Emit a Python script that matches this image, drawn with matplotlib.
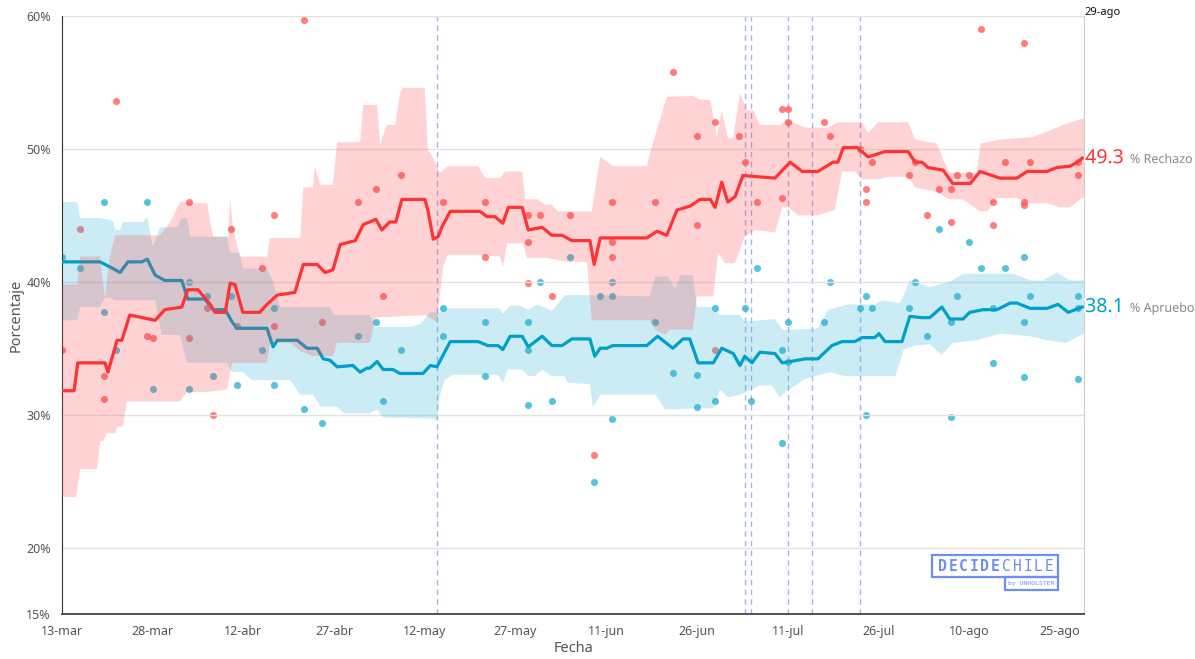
import numpy as np
import matplotlib
matplotlib.use("Agg")
import matplotlib.pyplot as plt
import matplotlib.patheffects as pe
from matplotlib.patches import Rectangle

plt.rcParams['font.family'] = ['Noto Sans', 'DejaVu Sans']

# days since 13-mar
tick_days = [0, 15, 30, 45, 60, 75, 90, 105, 120, 135, 150, 165]
tick_labels = ["13-mar", "28-mar", "12-abr", "27-abr", "12-may", "27-may",
               "11-jun", "26-jun", "11-jul", "26-jul", "10-ago", "25-ago"]
y_ticks = [15, 20, 30, 40, 50, 60]
event_days = [62, 113, 114, 120, 124, 132]

# Rechazo: trend line
rech_d = [0, 2.0, 2.6, 7.1, 7.6, 9.1, 9.9, 11.2, 15.4, 17.0, 19.8, 20.8, 22.5, 24.5, 25.3, 27.0,
          27.8, 28.6, 29.9, 32.7, 33.9, 35.6, 38.5, 39.9, 42.2, 43.5, 44.8, 46.0, 48.5, 49.8,
          51.9, 52.9, 54.2, 55.2, 56.2, 60.0, 60.5, 61.4, 62.2, 62.8, 64.2, 69.1, 70.3, 71.6,
          72.9, 73.8, 76.1, 77.1, 79.4, 81.0, 82.7, 84.3, 87.3, 88.0, 89.0, 96.7, 98.4, 100.0,
          101.7, 103.9, 105.5, 107.2, 108.0, 109.1, 110.1, 111.3, 112.6, 117.9, 120.4, 122.4,
          125.0, 127.5, 128.3, 129.2, 131.5, 133.3, 136.1, 139.9, 141.1, 142.2, 143.2, 145.7,
          147.3, 150.2, 151.8, 155.1, 157.9, 159.6, 162.9, 164.5, 166.7, 167.9, 168.7]
rech_v = [31.8, 31.8, 33.9, 33.9, 33.2, 35.6, 35.6, 37.5, 37.1, 37.9, 38.1, 39.4, 39.4, 38.3, 37.7, 37.7,
          39.9, 39.8, 37.7, 37.7, 38.3, 39.0, 39.2, 41.3, 41.3, 40.7, 40.9, 42.8, 43.1, 44.3,
          44.7, 43.9, 44.5, 44.5, 46.2, 46.2, 45.4, 43.2, 43.4, 44.1, 45.3, 45.3, 44.9, 44.9,
          44.4, 45.6, 45.6, 43.9, 44.1, 43.5, 43.5, 43.1, 43.1, 41.3, 43.3, 43.3, 43.8, 43.5,
          45.4, 45.7, 46.2, 46.2, 45.6, 47.5, 46.0, 46.4, 48.0, 47.8, 49.0, 48.3,
          48.3, 49.0, 49.0, 50.1, 50.1, 49.4, 49.8, 49.8, 49.0, 49.0, 48.6, 48.4,
          47.4, 47.4, 48.3, 47.8, 47.8, 48.3, 48.3, 48.6, 48.7, 49.0, 49.3]

# Rechazo: upper band
rech_hi_d = [0, 2.5, 3.0, 6.3, 7.1, 7.9, 8.8, 16.2, 17.9, 19.5, 24.0, 24.5, 25.0, 27.5, 27.8, 28.3,
             29.4, 33.9, 34.4, 39.4, 39.9, 41.5, 41.8, 42.7, 44.8, 45.5, 49.3, 49.8, 52.1, 52.6,
             53.7, 55.1, 55.9, 56.4, 60.0, 60.5, 61.2, 62.5, 63.8, 68.8, 70.0, 72.4, 73.3, 76.1,
             76.6, 78.7, 79.9, 81.0, 82.0, 87.6, 89.0, 91.1, 96.7, 97.7, 100.0, 104.3, 105.5,
             107.2, 108.3, 109.1, 110.1, 111.0, 112.1, 113.3, 114.3, 115.4, 118.7, 119.9, 122.9,
             126.7, 128.3, 132.3, 133.3, 134.9, 139.9, 141.1, 144.7, 145.7, 146.8, 151.3, 151.9,
             155.1, 160.6, 163.4, 166.7, 169.0]
rech_hi_v = [39.8, 39.8, 41.9, 41.9, 38.8, 41.9, 43.5, 43.5, 44.5, 46.0, 45.9, 44.5, 43.4, 43.4, 46.2, 44.0,
             41.9, 41.9, 43.3, 43.3, 47.1, 47.1, 48.7, 47.3, 47.3, 50.5, 50.5, 53.3, 53.3, 50.3,
             51.8, 51.8, 54.2, 54.6, 54.6, 49.9, 49.5, 48.2, 48.7, 48.7, 47.8, 47.8, 48.3, 48.3,
             46.2, 46.2, 45.8, 45.8, 45.3, 45.3, 49.4, 48.7, 48.7, 50.4, 53.9, 54.0, 53.7,
             53.7, 50.9, 52.9, 50.8, 50.8, 54.2, 52.9, 52.9, 51.8, 51.8, 52.2, 51.6,
             51.6, 52.0, 52.0, 51.2, 52.0, 52.0, 50.7, 50.4, 49.2, 48.2, 48.2, 50.4,
             50.7, 50.9, 51.4, 52.0, 52.3]

# Rechazo: lower band
rech_lo_d = [0, 2.3, 3.0, 5.8, 6.3, 6.8, 7.4, 8.8, 9.1, 10.1, 10.7, 19.5, 20.7, 24.0, 27.3, 28.1,
             33.9, 34.4, 37.7, 39.4, 41.5, 44.8, 45.5, 50.9, 51.8, 60.0, 62.0, 63.0, 63.7, 69.1,
             72.4, 72.9, 73.6, 76.2, 76.9, 80.2, 83.5, 86.8, 87.6, 97.2, 98.1, 99.7, 100.5, 104.3,
             105.0, 107.7, 108.5, 109.6, 111.3, 112.9, 114.6, 117.9, 119.1, 120.1, 121.7, 125.0,
             127.8, 129.0, 131.1, 132.3, 134.9, 136.6, 139.9, 141.1, 144.4, 146.8, 149.0, 151.8,
             153.0, 154.6, 157.9, 160.1, 162.9, 165.0, 166.7, 169.0]
rech_lo_v = [23.8, 23.8, 25.9, 25.9, 28.0, 28.0, 28.6, 28.6, 29.1, 29.1, 31.0, 31.0, 31.7, 31.7, 31.9, 33.9,
             33.9, 35.4, 35.4, 34.8, 34.4, 34.4, 35.4, 35.4, 37.3, 37.5, 37.0, 41.0, 42.0, 42.0,
             41.9, 41.1, 42.9, 42.9, 41.8, 41.8, 41.5, 41.5, 37.1, 37.1, 36.4, 36.0, 36.4, 36.4,
             38.9, 38.9, 42.2, 41.4, 41.4, 43.4, 43.9, 43.7, 45.6, 45.6, 45.0, 45.0,
             45.4, 48.3, 48.3, 47.7, 47.7, 47.9, 47.9, 47.1, 46.8, 46.2, 46.2, 45.3,
             45.3, 46.3, 46.3, 45.9, 45.9, 45.6, 45.6, 46.4]

# Apruebo: trend line
apr_d = [0, 6.3, 8.4, 9.6, 10.9, 13.2, 14.1, 15.4, 17.0, 19.8, 20.8, 23.6, 25.0, 27.0, 28.1, 28.9,
         33.9, 34.9, 35.6, 38.9, 40.5, 42.2, 43.2, 44.3, 45.5, 48.1, 49.3, 50.4, 50.9, 52.1, 53.1,
         54.7, 55.9, 59.7, 60.9, 62.0, 64.2, 68.8, 70.4, 72.1, 72.9, 74.1, 76.1, 77.1, 79.4, 81.0,
         82.7, 84.3, 87.3, 88.1, 89.0, 90.1, 91.1, 96.7, 98.5, 101.0, 102.7, 103.8, 105.2, 107.7,
         109.1, 111.0, 112.1, 112.9, 114.1, 115.4, 117.9, 119.1, 120.4, 122.9, 125.0, 127.3, 129.0,
         131.1, 132.3, 134.4, 135.1, 136.1, 138.9, 140.2, 142.2, 143.5, 145.5, 146.8, 149.0, 150.1,
         152.3, 154.6, 156.8, 157.9, 160.1, 162.9, 164.7, 166.4, 168.7]
apr_v = [41.5, 41.5, 41.0, 40.7, 41.5, 41.5, 41.7, 40.5, 40.1, 40.1, 38.7, 38.7, 37.9, 37.9, 37.0, 36.5,
         36.5, 35.1, 35.6, 35.6, 35.0, 35.0, 34.2, 34.1, 33.6, 33.7, 33.2, 33.5, 33.5, 34.0, 33.4,
         33.4, 33.1, 33.1, 33.7, 33.6, 35.5, 35.5, 35.2, 35.2, 34.9, 35.9, 35.9, 35.1, 35.9, 35.2,
         35.2, 35.7, 35.7, 34.4, 35.0, 35.0, 35.2, 35.2, 35.9, 35.0, 35.7, 35.7, 33.9, 33.9,
         35.0, 34.6, 33.7, 34.4, 33.9, 34.7, 34.6, 33.9, 34.0, 34.2, 34.2, 35.2, 35.5,
         35.5, 35.8, 35.8, 36.1, 35.5, 35.5, 37.4, 37.3, 37.3, 38.1, 37.2, 37.2, 37.7,
         37.9, 37.9, 38.4, 38.4, 38.0, 38.0, 38.3, 37.7, 38.1]

# Apruebo: upper band
apr_hi_d = [0, 2.5, 3.0, 6.3, 8.4, 8.9, 9.6, 10.1, 13.4, 14.1, 15.0, 16.2, 19.0, 19.8, 20.7, 21.2,
            27.3, 27.8, 29.4, 29.9, 33.9, 34.9, 36.1, 44.3, 45.1, 50.9, 51.8, 57.5, 59.2, 60.9,
            62.5, 63.3, 72.4, 72.9, 74.1, 75.7, 77.1, 78.7, 81.0, 83.2, 87.3, 97.2, 98.1, 100.2,
            101.4, 102.2, 104.3, 105.0, 107.7, 108.8, 112.1, 112.9, 117.9, 119.1, 121.2, 125.0,
            126.7, 130.0, 134.4, 135.6, 138.6, 140.2, 143.5, 146.8, 149.0, 157.3, 160.1, 162.2,
            164.5, 166.7, 169.0]
apr_hi_v = [46.0, 46.0, 44.8, 44.8, 44.6, 43.9, 43.9, 44.5, 44.5, 44.9, 42.6, 44.1, 44.1, 44.8, 44.8, 43.4,
            43.4, 42.2, 42.2, 41.0, 41.0, 40.0, 38.1, 38.1, 37.5, 37.5, 36.6, 36.6, 36.8, 37.7,
            37.7, 38.0, 38.0, 37.6, 38.2, 38.2, 37.9, 38.3, 37.8, 39.0, 39.0, 38.9, 40.4, 40.4,
            39.5, 40.5, 40.5, 38.1, 38.1, 37.5, 37.5, 37.0, 37.2, 36.4, 36.4, 36.5,
            37.9, 38.3, 38.3, 38.6, 38.4, 40.1, 39.6, 40.0, 40.6, 40.6, 40.1, 40.1,
            40.7, 40.1, 40.1]

# Apruebo: lower band
apr_lo_d = [0, 2.5, 3.0, 6.3, 7.1, 7.9, 8.8, 15.4, 16.5, 19.5, 20.7, 27.3, 28.1, 29.9, 31.4, 37.7,
            39.4, 41.5, 42.8, 45.5, 46.6, 50.9, 52.1, 53.1, 61.6, 62.0, 62.5, 63.3, 64.5, 72.1,
            72.9, 73.7, 76.1, 77.1, 78.2, 79.4, 81.0, 83.1, 83.6, 87.3, 87.8, 89.0, 98.2, 99.7,
            107.7, 108.8, 110.1, 112.1, 115.4, 117.4, 118.7, 119.6, 122.9, 127.0, 129.5, 133.2,
            137.8, 139.2, 141.1, 143.5, 145.5, 147.3, 151.3, 155.1, 160.1, 162.9, 166.0, 169.0]
apr_lo_v = [37.1, 37.1, 38.1, 38.1, 38.8, 38.8, 38.6, 38.6, 36.0, 36.0, 33.9, 33.9, 33.2, 33.2, 32.6, 32.6,
            31.5, 31.5, 30.6, 30.6, 30.1, 30.1, 30.4, 29.8, 29.7, 29.5, 31.5, 32.6, 33.0, 33.0,
            32.4, 33.4, 33.4, 32.9, 32.9, 33.4, 32.9, 32.9, 32.4, 32.3, 30.5, 31.5, 31.5, 30.4,
            30.5, 31.9, 31.3, 31.5, 32.2, 32.2, 31.3, 31.7, 32.7, 33.2, 32.9, 32.9,
            32.9, 34.9, 35.2, 35.3, 34.5, 35.4, 35.6, 36.1, 35.9, 35.6, 35.4, 36.1]

# individual polls
rech_pts_d = [0, 3, 7, 7, 9, 14, 15, 21, 21, 24, 25, 28, 29, 33, 35, 35, 40, 43, 49, 52, 53, 56,
              63, 70, 70, 77, 79, 84, 77, 77, 81, 88, 91, 98, 91, 91, 101, 105, 108, 112, 113,
              105, 115, 108, 119, 120, 120, 126, 127, 119, 132, 134, 133, 133, 140, 141, 143,
              145, 147, 147, 148, 150, 152, 154, 154, 156, 159, 159, 159, 160, 168, 168]
rech_pts_v = [34.9, 44.0, 32.9, 31.2, 53.6, 35.9, 35.8, 46.0, 35.8, 38.0, 30.0, 44.0, 36.7, 41.0, 45.0,
              36.7, 59.7, 37.0, 46.0, 47.0, 38.9, 48.0, 46.0, 46.0, 41.9, 45.0, 45.0, 45.0, 43.0,
              39.9, 38.9, 27.0, 46.0, 46.0, 43.0, 41.9, 55.8, 51.0, 52.0, 51.0, 49.0, 44.3, 46.0,
              34.9, 53.0, 53.0, 52.0, 52.0, 51.0, 46.3, 50.0, 49.0, 47.0, 46.0, 48.0, 49.0, 45.0,
              47.0, 47.0, 44.5, 48.0, 48.0, 59.0, 46.0, 44.3, 49.0, 58.0, 46.0, 45.8, 49.0, 49.0,
              48.0]
apr_pts_d = [0, 3, 7, 7, 9, 14, 15, 21, 21, 24, 25, 28, 29, 33, 35, 35, 40, 43, 49, 52, 53, 56,
             63, 63, 70, 70, 77, 77, 77, 79, 81, 84, 88, 89, 91, 91, 91, 98, 101, 105, 105, 108,
             108, 113, 114, 115, 119, 119, 120, 120, 126, 127, 132, 133, 134, 133, 140, 141, 143,
             145, 147, 147, 148, 150, 152, 154, 154, 156, 159, 159, 159, 160, 168, 168, 168]
apr_pts_v = [41.9, 41.0, 46.0, 37.7, 34.9, 46.0, 31.9, 40.0, 31.9, 38.9, 32.9, 38.9, 32.2, 34.9, 38.0,
             32.2, 30.4, 29.4, 35.9, 37.0, 31.0, 34.9, 38.0, 35.9, 37.0, 32.9, 37.0, 34.9, 30.7,
             40.0, 31.0, 41.9, 24.9, 38.9, 38.9, 40.0, 29.7, 37.0, 33.1, 33.0, 30.6, 31.0, 38.0,
             38.0, 31.0, 41.0, 34.9, 27.9, 37.0, 34.0, 37.0, 40.0, 38.0, 38.9, 38.0, 30.0, 38.0,
             40.0, 35.9, 44.0, 37.0, 29.8, 38.9, 43.0, 41.0, 38.0, 33.9, 41.0, 41.9, 37.0, 32.8,
             38.9, 38.9, 38.0, 32.7]

RED = "#ff3333"
BLUE = "#00a0cc"

fig = plt.figure(figsize=(11.95, 6.59), dpi=100)
ax = fig.add_axes([0.0519, 0.0683, 0.8552, 0.9074])

# polls sit under the bands
ax.scatter(rech_pts_d, rech_pts_v, s=26, color="#ff5c5c", alpha=0.8, lw=0, zorder=1)
ax.scatter(apr_pts_d, apr_pts_v, s=26, color="#2bb3d6", alpha=0.8, lw=0, zorder=1)

ax.fill(np.r_[apr_hi_d, apr_lo_d[::-1]], np.r_[apr_hi_v, apr_lo_v[::-1]],
        color="#33b5d9", alpha=0.25, lw=0, zorder=2)
ax.plot(apr_d, apr_v, color=BLUE, lw=2.3, zorder=3, solid_joinstyle="round")
ax.fill(np.r_[rech_hi_d, rech_lo_d[::-1]], np.r_[rech_hi_v, rech_lo_v[::-1]],
        color="#ff3b3b", alpha=0.22, lw=0, zorder=4)
ax.plot(rech_d, rech_v, color=RED, lw=2.3, zorder=5, solid_joinstyle="round")

for d in event_days:
    ax.axvline(d, color="#a9b3ee", lw=1, ls=(0, (4, 3)), zorder=0.5)

ax.set_xlim(0, 169)
ax.set_ylim(15, 60)
ax.set_yticks(y_ticks)
ax.set_yticklabels(["%d%%" % v for v in y_ticks])
ax.set_xticks(tick_days)
ax.set_xticklabels(tick_labels)
ax.tick_params(length=0, labelsize=9, colors="#555555")
ax.tick_params(axis="x", pad=8)
ax.tick_params(axis="y", pad=8)
ax.grid(axis="y", color="#e3e3e3", lw=1, zorder=0)
ax.spines["top"].set_visible(False)
ax.spines["left"].set_color("#333333")
ax.spines["bottom"].set_color("#444444")
ax.spines["bottom"].set_linewidth(1.3)
ax.spines["right"].set_color("#cccccc")
ax.set_xlabel("Fecha", fontsize=10.5, color="#555555", labelpad=2)
ax.set_ylabel("Porcentaje", fontsize=10.5, color="#555555", labelpad=2)

ax.text(169, 60.1, "29-ago", fontsize=8, color="#111111", ha="left", va="baseline",
        clip_on=False)

stroke = [pe.withStroke(linewidth=3, foreground="white")]
ax.text(169.2, rech_v[-1], "%.1f" % rech_v[-1], fontsize=14, color=RED, fontweight="bold",
        va="center", ha="left", clip_on=False, path_effects=stroke)
ax.text(176.6, rech_v[-1] - 0.1, "% Rechazo", fontsize=9, color="#888888",
        va="center", ha="left", clip_on=False, path_effects=stroke)
ax.text(169.2, apr_v[-1], "%.1f" % apr_v[-1], fontsize=14, color=BLUE, fontweight="bold",
        va="center", ha="left", clip_on=False, path_effects=stroke)
ax.text(176.6, apr_v[-1] - 0.1, "% Apruebo", fontsize=9, color="#888888",
        va="center", ha="left", clip_on=False, path_effects=stroke)

# logo
LOGO = "#6f8ef0"
fig.add_artist(Rectangle((932 / 1195, 1 - 577 / 659), 126 / 1195, 22 / 659,
                         transform=fig.transFigure, fill=False, ec=LOGO, lw=1.6))
fig.add_artist(Rectangle((1005 / 1195, 1 - 590 / 659), 53 / 1195, 13 / 659,
                         transform=fig.transFigure, fill=False, ec=LOGO, lw=1.6))
for i, ch in enumerate("DECIDECHILE"):
    fig.text((942 + i * 10.7) / 1195, 1 - 566.5 / 659, ch, family="DejaVu Sans Mono",
             fontweight="bold" if i < 6 else "normal", fontsize=10.5, color=LOGO,
             va="center", ha="center")
fig.text(1031.5 / 1195, 1 - 583.5 / 659, "by UNHOLSTER", family="DejaVu Sans Mono",
         fontsize=4.6, color=LOGO, va="center", ha="center")

fig.savefig("out.png", dpi=100)
